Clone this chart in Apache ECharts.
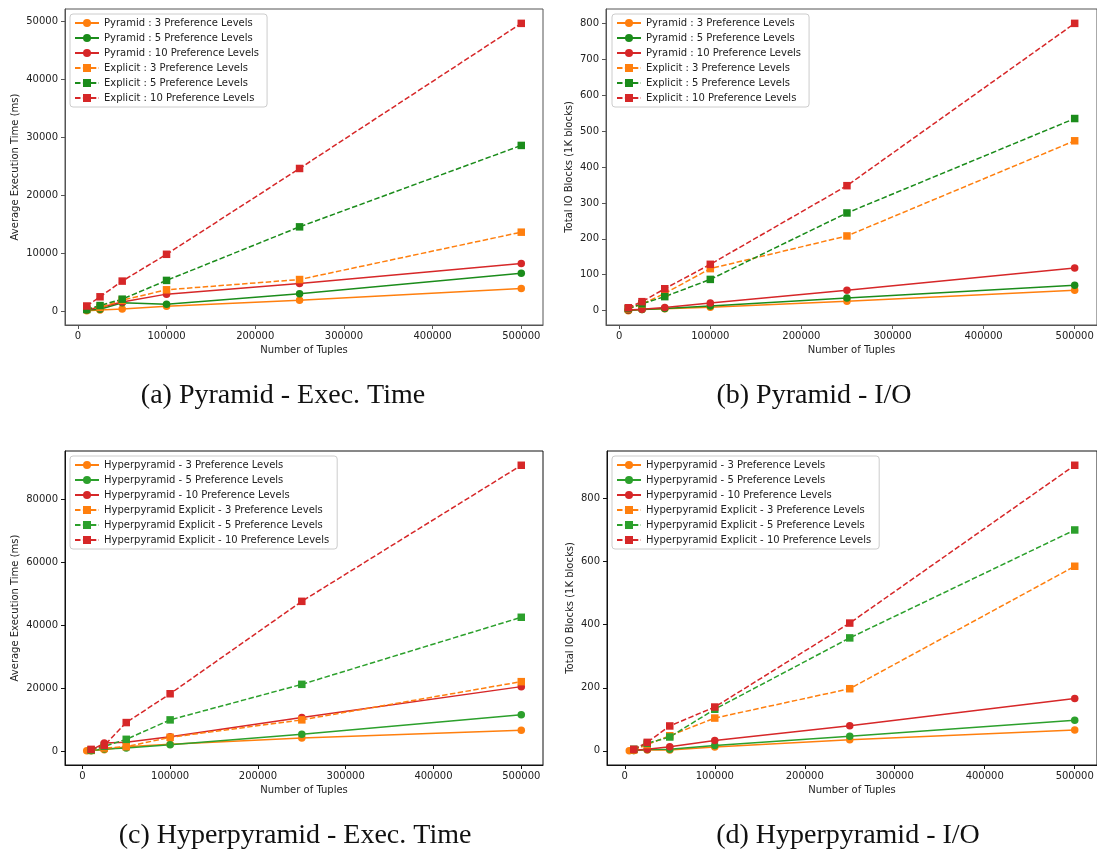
<!DOCTYPE html>
<html><head><meta charset="utf-8">
<script src="https://cdn.jsdelivr.net/npm/echarts@6/dist/echarts.min.js"></script>
<style>html,body{margin:0;padding:0;background:#fff}#c{width:1097px;height:849px}</style>
</head><body><div id="c"></div>
<script>
// ---------- DATA ----------
const tuples = [10000, 25000, 50000, 100000, 250000, 500000];
const tuplesHyper3 = [5000, 10000, 25000, 50000, 100000, 250000, 500000];

// (a) Pyramid - execution time (ms)
const pyr3Time = [100, 200, 400, 850, 1900, 3920];
const pyr5Time = [200, 350, 1450, 1210, 3000, 6570];
const pyr10Time = [300, 650, 1600, 2950, 4780, 8240];
const exp3Time = [400, 650, 1900, 3700, 5470, 13650];
const exp5Time = [300, 980, 2080, 5320, 14570, 28630];
const exp10Time = [900, 2490, 5200, 9830, 24650, 49710];

// (b) Pyramid - I/O (1K blocks)
const pyr3IO = [0, 3, 5, 9.5, 26, 57];
const pyr5IO = [1, 3, 6, 13, 35, 71];
const pyr10IO = [2, 4, 8.5, 21, 57, 119];
const exp3IO = [5, 18, 48, 117, 208, 473];
const exp5IO = [6, 19, 39, 87, 272, 535];
const exp10IO = [8, 25, 61, 129, 348, 800];

// (c) Hyperpyramid - execution time (ms)
const hyp3Time = [100, 150, 420, 1400, 2130, 4110, 6640];
const hyp5Time = [100, 630, 960, 2020, 5370, 11490];
const hyp10Time = [300, 2530, 2800, 4570, 10640, 20450];
const hexp3Time = [200, 950, 1380, 4360, 9900, 22030];
const hexp5Time = [300, 1500, 3720, 9890, 21180, 42470];
const hexp10Time = [530, 1800, 9040, 18190, 47530, 90730];

// (d) Hyperpyramid - I/O (1K blocks)
const hyp3IO = [0.5, 1, 3, 3, 12, 35, 66];
const hyp5IO = [1, 4, 5, 17, 46, 97];
const hyp10IO = [2, 5, 13, 33, 80, 166];
const hexp3IO = [3, 20, 48, 104, 197, 585];
const hexp5IO = [5, 24, 44, 132, 358, 700];
const hexp10IO = [5, 27, 79, 139, 405, 905];

// tick labels
const xTicks = [0, 100000, 200000, 300000, 400000, 500000];
const yTicksA = [0, 10000, 20000, 30000, 40000, 50000];
const yTicksB = [0, 100, 200, 300, 400, 500, 600, 700, 800];
const yTicksC = [0, 20000, 40000, 60000, 80000];
const yTicksD = [0, 200, 400, 600, 800];

// series names
const namesPyr = ['Pyramid : 3 Preference Levels', 'Pyramid : 5 Preference Levels', 'Pyramid : 10 Preference Levels',
  'Explicit : 3 Preference Levels', 'Explicit : 5 Preference Levels', 'Explicit : 10 Preference Levels'];
const namesHyp = ['Hyperpyramid - 3 Preference Levels', 'Hyperpyramid - 5 Preference Levels', 'Hyperpyramid - 10 Preference Levels',
  'Hyperpyramid Explicit - 3 Preference Levels', 'Hyperpyramid Explicit - 5 Preference Levels', 'Hyperpyramid Explicit - 10 Preference Levels'];
const captions = ['(a) Pyramid - Exec. Time', '(b) Pyramid - I/O', '(c) Hyperpyramid - Exec. Time', '(d) Hyperpyramid - I/O'];
const yNames = ['Average Execution Time (ms)', 'Total IO Blocks (1K blocks)', 'Average Execution Time (ms)', 'Total IO Blocks (1K blocks)'];

// ---------- LAYOUT / STYLE ----------
const FONT = 'DejaVu Sans';
const topColors = ['#ff7f0e', '#1b8c1b', '#d62728'];
const botColors = ['#ff7f0e', '#2ca02c', '#d62728'];

const panels = [
  { grid: {left: 65, top: 9, width: 478, height: 316}, frame: '#555', colors: topColors, names: namesPyr,
    xs: [tuples, tuples, tuples, tuples, tuples, tuples],
    ys: [pyr3Time, pyr5Time, pyr10Time, exp3Time, exp5Time, exp10Time], yTicks: yTicksA, nameGap: 45,
    legend: {left: 70, top: 14}, cap: {x: 278, y: 377} },
  { grid: {left: 606, top: 9, width: 492, height: 316}, frame: '#555', colors: topColors, names: namesPyr,
    xs: [tuples, tuples, tuples, tuples, tuples, tuples],
    ys: [pyr3IO, pyr5IO, pyr10IO, exp3IO, exp5IO, exp10IO], yTicks: yTicksB, nameGap: 32,
    legend: {left: 612, top: 14}, cap: {x: 809, y: 377} },
  { grid: {left: 65, top: 451, width: 478, height: 314}, frame: '#111', colors: botColors, names: namesHyp,
    xs: [tuplesHyper3, tuples, tuples, tuples, tuples, tuples],
    ys: [hyp3Time, hyp5Time, hyp10Time, hexp3Time, hexp5Time, hexp10Time], yTicks: yTicksC, nameGap: 45,
    legend: {left: 70, top: 456}, cap: {x: 290, y: 817} },
  { grid: {left: 607, top: 451, width: 493, height: 314}, frame: '#111', colors: botColors, names: namesHyp,
    xs: [tuplesHyper3, tuples, tuples, tuples, tuples, tuples],
    ys: [hyp3IO, hyp5IO, hyp10IO, hexp3IO, hexp5IO, hexp10IO], yTicks: yTicksD, nameGap: 32,
    legend: {left: 612, top: 456}, cap: {x: 843, y: 817} }
];

function padRange(arrs) {
  let mn = Infinity, mx = -Infinity;
  arrs.forEach(a => a.forEach(v => { if (v < mn) mn = v; if (v > mx) mx = v; }));
  const m = (mx - mn) * 0.05;
  return [mn - m, mx + m];
}

const grids = [], xAxes = [], yAxes = [], series = [], legends = [], titles = [];
panels.forEach((p, gi) => {
  grids.push(Object.assign({show: true, borderColor: p.frame, borderWidth: 1, backgroundColor: '#fff', containLabel: false}, p.grid));
  const xr = padRange(p.xs), yr = padRange(p.ys);
  const tc = '#222';
  xAxes.push({
    type: 'value', gridIndex: gi, min: xr[0], max: xr[1],
    name: 'Number of Tuples', nameLocation: 'middle', nameGap: 20,
    nameTextStyle: {fontFamily: FONT, fontSize: 10, color: tc},
    axisLine: {show: true, onZero: false, lineStyle: {color: p.frame, width: 1}},
    axisTick: {show: true, inside: false, length: 4, customValues: xTicks, lineStyle: {color: p.frame}},
    axisLabel: {customValues: xTicks, formatter: v => String(v), fontFamily: FONT, fontSize: 10, color: tc, margin: 6},
    splitLine: {show: false}
  });
  yAxes.push({
    type: 'value', gridIndex: gi, min: yr[0], max: yr[1],
    name: yNames[gi], nameLocation: 'middle', nameGap: p.nameGap,
    nameTextStyle: {fontFamily: FONT, fontSize: 10, color: tc},
    axisLine: {show: true, onZero: false, lineStyle: {color: p.frame, width: 1}},
    axisTick: {show: true, inside: false, length: 4, customValues: p.yTicks, lineStyle: {color: p.frame}},
    axisLabel: {customValues: p.yTicks, formatter: v => String(v), fontFamily: FONT, fontSize: 10, color: tc, margin: 7},
    splitLine: {show: false}
  });
  p.names.forEach((nm, si) => {
    const color = p.colors[si % 3];
    const dashed = si >= 3;
    series.push({
      type: 'line', name: nm, xAxisIndex: gi, yAxisIndex: gi,
      data: p.xs[si].map((x, i) => [x, p.ys[si][i]]),
      symbol: dashed ? 'rect' : 'circle', symbolSize: 7.5, showSymbol: true, showAllSymbol: true,
      lineStyle: {color: color, width: 1.5, type: dashed ? [5.5, 2.4] : 'solid'},
      itemStyle: {color: color},
      emphasis: {disabled: true}, silent: true, animation: false
    });
  });
  legends.push({
    orient: 'vertical', left: p.legend.left, top: p.legend.top,
    data: p.names.slice(), itemWidth: 24, itemHeight: 10, itemGap: 3,
    padding: [3, 8, 3, 4], backgroundColor: 'rgba(255,255,255,0.85)',
    borderColor: '#ccc', borderWidth: 1, borderRadius: 3,
    textStyle: {fontFamily: FONT, fontSize: 10, color: '#222', lineHeight: 12},
    selectedMode: false
  });
  titles.push({
    text: captions[gi], left: p.cap.x, top: p.cap.y, textAlign: 'center',
    textStyle: {fontFamily: 'Liberation Serif', fontSize: 28, fontWeight: 'normal', color: '#111'}
  });
});

const chart = echarts.init(document.getElementById('c'), null, {renderer: 'canvas'});
chart.setOption({
  animation: false, backgroundColor: '#fff',
  title: titles, grid: grids, xAxis: xAxes, yAxis: yAxes, legend: legends, series: series
});
</script>
</body></html>
